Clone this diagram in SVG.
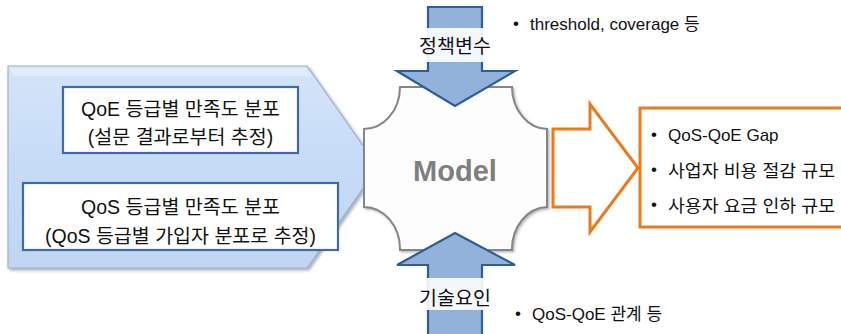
<svg xmlns="http://www.w3.org/2000/svg" width="841" height="334" viewBox="0 0 841 334">
  <defs>
    <style>
      .t { font-family: "Liberation Sans", "Noto Sans CJK KR", sans-serif; fill: #111; }
      .box { fill: #ffffff; stroke: #3f6aa6; stroke-width: 2.2; }
      .blue-arrow { fill: #92b2da; stroke: #2e5d97; stroke-width: 2.2; stroke-linejoin: miter; }
      .orange { fill: #ffffff; stroke: #ec7a1c; stroke-width: 3; stroke-linejoin: miter; }
      .label-bg { fill: #ffffff; opacity: 0.9; }
    </style>
    <linearGradient id="inputFill" x1="0" y1="0" x2="0" y2="1">
      <stop offset="0" stop-color="#d4e5fa"/>
      <stop offset="0.5" stop-color="#c6dbf6"/>
      <stop offset="1" stop-color="#bfd5f2"/>
    </linearGradient>
    <filter id="shadow" x="-10%" y="-10%" width="125%" height="125%">
      <feDropShadow dx="2" dy="2" stdDeviation="1.5" flood-color="#5a6f8c" flood-opacity="0.55"/>
    </filter>
    <filter id="softShadow" x="-10%" y="-10%" width="125%" height="125%">
      <feDropShadow dx="1.5" dy="1.5" stdDeviation="1" flood-color="#707070" flood-opacity="0.5"/>
    </filter>
  </defs>

  <!-- input arrow carrying the two distributions -->
  <g id="input-arrow">
    <path d="M8,66 L307,66 L378,167 L307,268 L8,268 Z" fill="url(#inputFill)" stroke="#9fb2c9" stroke-width="1.2" filter="url(#shadow)"/>
    <path d="M10,68 L306,68 L312,76 L14,76 Z" fill="#e4effc" opacity="0.8"/>
  </g>

  <g id="qoe-box">
    <rect class="box" x="63" y="87" width="235" height="66"/>
    <text class="t" x="180.5" y="116" font-size="19.5" text-anchor="middle">QoE 등급별 만족도 분포</text>
    <text class="t" x="180.5" y="144" font-size="19.5" text-anchor="middle">(설문 결과로부터 추정)</text>
  </g>

  <g id="qos-box">
    <rect class="box" x="23" y="183" width="315" height="67"/>
    <text class="t" x="180.5" y="214" font-size="19.5" text-anchor="middle">QoS 등급별 만족도 분포</text>
    <text class="t" x="180.5" y="243" font-size="19.5" text-anchor="middle">(QoS 등급별 가입자 분포로 추정)</text>
  </g>

  <!-- central model plaque -->
  <g id="model">
    <path d="M400,87 L512,87 A36,42 0 0 0 547,129 L547,207 A36,42 0 0 0 512,250 L400,250 A36,42 0 0 0 364,207 L364,129 A36,42 0 0 0 400,87 Z" fill="#fdfdfd" stroke="#858585" stroke-width="2" filter="url(#softShadow)"/>
    <text x="455" y="181" font-family="Liberation Sans, Arial, sans-serif" font-weight="bold" font-size="29" fill="#7f7f7f" text-anchor="middle">Model</text>
  </g>

  <g id="connectors">
    <!-- policy variables (down) -->
    <path class="blue-arrow" d="M428,7 L482,7 L482,71 L515,71 L455,106 L397,71 L428,71 Z"/>
    <!-- technical factors (up) -->
    <path class="blue-arrow" d="M455,233 L515,265 L482,265 L482,336 L428,336 L428,265 L397,265 Z"/>
    <!-- output arrow -->
    <path class="orange" d="M553,129 L590,129 L590,104 L638,168 L590,232 L590,207 L553,207 Z"/>
  </g>

  <g id="policy-label">
    <rect class="label-bg" x="407" y="28" width="95" height="34"/>
    <text class="t" x="455" y="53" font-size="19.5" text-anchor="middle">정책변수</text>
  </g>
  <g id="policy-note">
    <text class="t" x="513" y="29" font-size="17">•</text>
    <text class="t" x="530" y="30" font-size="17">threshold, coverage 등</text>
  </g>

  <g id="tech-label">
    <rect class="label-bg" x="407" y="278" width="95" height="32"/>
    <text class="t" x="455" y="305" font-size="19.5" text-anchor="middle">기술요인</text>
  </g>
  <g id="tech-note">
    <text class="t" x="515" y="319" font-size="17">•</text>
    <text class="t" x="532" y="320" font-size="17">QoS-QoE 관계 등</text>
  </g>

  <!-- results box -->
  <g id="results">
    <rect class="orange" x="640" y="108" width="210" height="119" fill="#fffefc"/>
    <text class="t" x="651" y="140" font-size="17">•</text>
    <text class="t" x="668" y="141" font-size="17">QoS-QoE Gap</text>
    <text class="t" x="651" y="175" font-size="17">•</text>
    <text class="t" x="668" y="177" font-size="17" textLength="167" lengthAdjust="spacingAndGlyphs">사업자 비용 절감 규모</text>
    <text class="t" x="651" y="210" font-size="17">•</text>
    <text class="t" x="668" y="212" font-size="17" textLength="167" lengthAdjust="spacingAndGlyphs">사용자 요금 인하 규모</text>
  </g>
</svg>
